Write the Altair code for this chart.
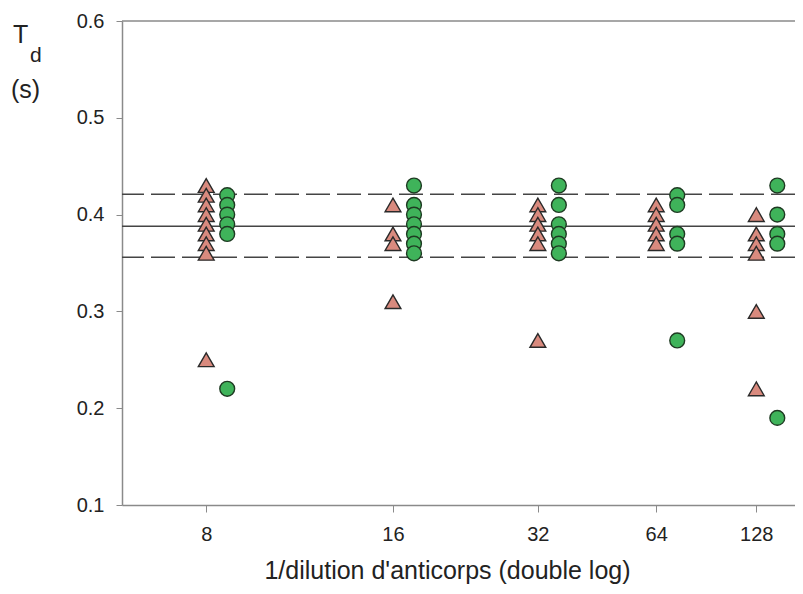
import altair as alt
import pandas as pd

# ---- data ----
dilutions = [8, 16, 32, 64, 128]

tri_8 = [0.43, 0.42, 0.41, 0.40, 0.39, 0.38, 0.37, 0.36, 0.25]
tri_16 = [0.41, 0.38, 0.37, 0.31]
tri_32 = [0.41, 0.40, 0.39, 0.38, 0.37, 0.27]
tri_64 = [0.41, 0.40, 0.39, 0.38, 0.37]
tri_128 = [0.40, 0.38, 0.37, 0.36, 0.30, 0.22]

circ_8 = [0.42, 0.41, 0.40, 0.39, 0.38, 0.22]
circ_16 = [0.43, 0.41, 0.40, 0.39, 0.38, 0.37, 0.36]
circ_32 = [0.43, 0.41, 0.39, 0.38, 0.37, 0.36]
circ_64 = [0.42, 0.41, 0.38, 0.37, 0.27]
circ_128 = [0.43, 0.40, 0.38, 0.37, 0.19]

ref_mean = [0.388]
ref_band = [0.421, 0.356]

y_ticks = [0.1, 0.2, 0.3, 0.4, 0.5, 0.6]

tri_sets = [tri_8, tri_16, tri_32, tri_64, tri_128]
circ_sets = [circ_8, circ_16, circ_32, circ_64, circ_128]

tri_df = pd.DataFrame(
    [{"dilution": d, "td": v} for d, vals in zip(dilutions, tri_sets) for v in vals]
)
circ_df = pd.DataFrame(
    [{"dilution": d, "td": v} for d, vals in zip(dilutions, circ_sets) for v in vals]
)
mean_df = pd.DataFrame({"td": ref_mean})
band_df = pd.DataFrame({"td": ref_band})
top_df = pd.DataFrame({"td": [max(y_ticks)]})

FONT = "Liberation Sans"
TXT = "#222222"
AX = "#8a8a8a"

x_enc = alt.X(
    "lx:Q",
    scale=alt.Scale(type="log", domain=[2.635, 7.43], nice=False, zero=False),
    axis=alt.Axis(
        values=[3, 4, 5, 6, 7],
        labelExpr="pow(2, round(datum.value))",
        title="1/dilution d'anticorps (double log)",
        titleFont=FONT,
        titleFontSize=25,
        titleFontWeight="normal",
        titleColor=TXT,
        titleX=325,
        titleY=73,
        titleAlign="center",
        titleBaseline="alphabetic",
        labelFont=FONT,
        labelFontSize=20,
        labelColor=TXT,
        labelPadding=12,
        tickSize=7,
        tickColor=AX,
        domainColor=AX,
        domainWidth=1.5,
        grid=False,
    ),
)

y_scale = alt.Scale(domain=[0.1, 0.6], nice=False, zero=False)
y_enc = alt.Y(
    "td:Q",
    scale=y_scale,
    axis=alt.Axis(
        values=y_ticks,
        format=".1f",
        title="",
        labelFont=FONT,
        labelFontSize=20,
        labelColor=TXT,
        labelPadding=12,
        tickSize=6,
        tickColor=AX,
        domainColor=AX,
        domainWidth=1.5,
        grid=False,
    ),
)

top_rule = alt.Chart(top_df).mark_rule(color=AX, strokeWidth=1.5).encode(
    y=alt.Y("td:Q", scale=y_scale)
)
mean_rule = alt.Chart(mean_df).mark_rule(color="#444444", strokeWidth=1.5).encode(
    y=alt.Y("td:Q", scale=y_scale)
)
band_rule = alt.Chart(band_df).mark_rule(
    color="#444444", strokeWidth=1.5, strokeDash=[24, 7]
).encode(y=alt.Y("td:Q", scale=y_scale))

tri = (
    alt.Chart(tri_df)
    .transform_calculate(lx="log(datum.dilution) / LN2")
    .mark_point(
        shape="triangle-up",
        filled=True,
        size=250,
        fill="#d98a7e",
        stroke="#2a2a2a",
        strokeWidth=1.4,
        opacity=1,
    )
    .encode(x=x_enc, y=y_enc)
)

circ = (
    alt.Chart(circ_df)
    .transform_calculate(lx="log(datum.dilution) / LN2")
    .mark_point(
        shape="circle",
        filled=True,
        size=220,
        fill="#3fb35a",
        stroke="#1e3a22",
        strokeWidth=1.4,
        opacity=1,
        xOffset=21,
    )
    .encode(x=x_enc, y=y_enc)
)

one = alt.Data(values=[{"k": 1}])
t_main = alt.Chart(one).mark_text(
    text="T", font=FONT, fontSize=25, color=TXT, align="left", baseline="alphabetic"
).encode(x=alt.value(-109), y=alt.value(22))
t_sub = alt.Chart(one).mark_text(
    text="d", font=FONT, fontSize=21, color=TXT, align="left", baseline="alphabetic"
).encode(x=alt.value(-92), y=alt.value(41))
t_unit = alt.Chart(one).mark_text(
    text="(s)", font=FONT, fontSize=25, color=TXT, align="left", baseline="alphabetic"
).encode(x=alt.value(-111), y=alt.value(77))

chart = (
    alt.layer(top_rule, band_rule, mean_rule, tri, circ, t_main, t_sub, t_unit)
    .properties(
        width=673,
        height=484,
        autosize=alt.AutoSizeParams(type="none"),
        padding={"left": 114, "top": 13, "right": 0, "bottom": 81},
        background="white",
    )
    .configure_view(strokeWidth=0)
)

chart.save("out.html", embed_options={"renderer": "svg", "actions": False})
